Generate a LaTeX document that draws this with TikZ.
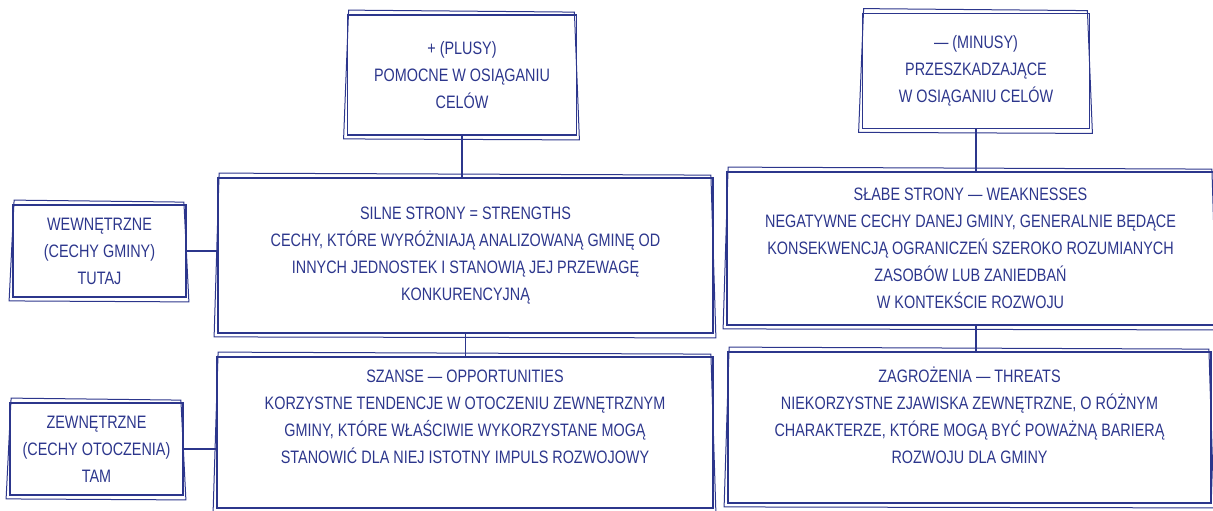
\documentclass[tikz,border=0pt]{standalone}
\usepackage{fontspec}
\newfontfamily\handfont[FakeStretch=0.8]{Liberation Sans}
\definecolor{ink}{RGB}{44,54,140}

\begin{document}
\begin{tikzpicture}[x=0.5pt, y=-0.5pt,
      box/.style={draw=ink, line width=0.9pt, text=ink, align=center,
                  inner sep=0pt, font=\handfont\fontsize{9}{13.5}\selectfont},
      sketch/.style={draw=ink, line width=0.5pt},
      link/.style={draw=ink, line width=0.9pt}]
    \useasboundingbox (0,0) rectangle (1213,510);
    \node[box, minimum width=114.5pt, minimum height=60pt]   (plus)  at (462,75)
      {+ (PLUSY)\\ POMOCNE W OSIĄGANIU\\ CELÓW};
    \node[box, minimum width=113.5pt, minimum height=57.5pt] (minus) at (976,71)
      {— (MINUSY)\\ PRZESZKADZAJĄCE\\ W OSIĄGANIU CELÓW};
    \node[box, minimum width=86.5pt, minimum height=46pt]    (wew)   at (99.5,251)
      {WEWNĘTRZNE\\ (CECHY GMINY)\\ TUTAJ};
    \node[box, minimum width=86.5pt, minimum height=46pt]    (zew)   at (96.5,449)
      {ZEWNĘTRZNE\\ (CECHY OTOCZENIA)\\ TAM};
    \node[box, minimum width=247.5pt, minimum height=77.5pt] (str)   at (465.5,255.5)
      {SILNE STRONY = STRENGTHS\\ CECHY, KTÓRE WYRÓŻNIAJĄ ANALIZOWANĄ GMINĘ OD\\
       INNYCH JEDNOSTEK I STANOWIĄ JEJ PRZEWAGĘ\\ KONKURENCYJNĄ};
    \node[box, minimum width=243.5pt, minimum height=76.5pt] (weak)  at (970.5,248.5)
      {SŁABE STRONY — WEAKNESSES\\ NEGATYWNE CECHY DANEJ GMINY, GENERALNIE BĘDĄCE\\
       KONSEKWENCJĄ OGRANICZEŃ SZEROKO ROZUMIANYCH\\ ZASOBÓW LUB ZANIEDBAŃ\\
       W KONTEKŚCIE ROZWOJU};
    \node[box, minimum width=248pt, minimum height=75.5pt, text depth=16pt] (opp) at (465,432.5)
      {SZANSE — OPPORTUNITIES\\ KORZYSTNE TENDENCJE W OTOCZENIU ZEWNĘTRZNYM\\
       GMINY, KTÓRE WŁAŚCIWIE WYKORZYSTANE MOGĄ\\ STANOWIĆ DLA NIEJ ISTOTNY IMPULS ROZWOJOWY};
    \node[box, minimum width=241.5pt, minimum height=75.5pt, text depth=12pt] (thr) at (969.5,427.5)
      {ZAGROŻENIA — THREATS\\ NIEKORZYSTNE ZJAWISKA ZEWNĘTRZNE, O RÓŻNYM\\
       CHARAKTERZE, KTÓRE MOGĄ BYĆ POWAŻNĄ BARIERĄ\\ ROZWOJU DLA GMINY};
    % second, hand-drawn outline
    \foreach \n in {plus,minus,wew,zew,str,weak,opp,thr}
      \draw[sketch] ([shift={(-3,3)}]\n.south west) -- ([shift={(2,-4)}]\n.north west)
        -- ([shift={(-3,-2)}]\n.north east) -- ([shift={(2,4)}]\n.south east) -- cycle;
    \draw[link] (plus.south) -- (plus.south |- str.north);
    \draw[link] (minus.south) -- (minus.south |- weak.north);
    \draw[link] (str.south) -- (str.south |- opp.north);
    \draw[link] (minus.south |- weak.south) -- (minus.south |- thr.north);
    \draw[link] (wew.east) -- (wew.east -| str.west);
    \draw[link] (zew.east) -- (zew.east -| opp.west);
\end{tikzpicture}
\end{document}
